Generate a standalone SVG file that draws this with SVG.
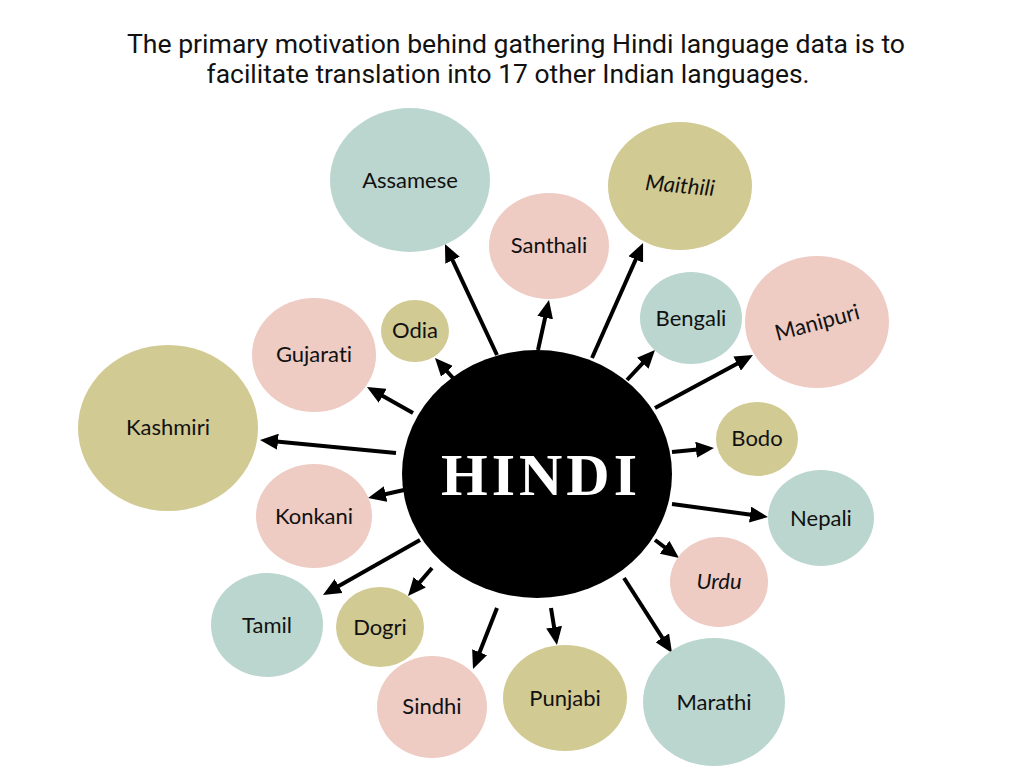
<svg xmlns="http://www.w3.org/2000/svg" width="1024" height="768" viewBox="0 0 1024 768">
<defs>
<style>
.t{fill:#bbd6cf}.p{fill:#eecbc3}.o{fill:#d1ca93}
.lbl{font-family:Lato,"Noto Sans",sans-serif;font-size:22px;fill:#111;text-anchor:middle;font-variant-ligatures:none}
.it{font-style:italic}
.title{font-family:Roboto,"Liberation Sans",sans-serif;font-size:25px;fill:#111;text-anchor:middle}
.arr line{stroke:#000;stroke-width:4;marker-end:url(#ah)}
</style>
<marker id="ah" markerUnits="userSpaceOnUse" markerWidth="18" markerHeight="16" refX="12" refY="8" orient="auto" viewBox="0 0 18 16">
<path d="M0,0 L18,8 L0,16 z" fill="#000"/>
</marker>
</defs>
<rect width="1024" height="768" fill="#fff"/>
<g id="title">
<text class="title" x="516" y="53" textLength="778" lengthAdjust="spacingAndGlyphs">The primary motivation behind gathering Hindi language data is to</text>
<text class="title" x="508" y="83" textLength="603" lengthAdjust="spacingAndGlyphs">facilitate translation into 17 other Indian languages.</text>
</g>
<g id="connectors" class="arr">
<line x1="497" y1="355" x2="447.5" y2="249.4"/>
<line x1="538" y1="350" x2="547.7" y2="305.9"/>
<line x1="592" y1="358" x2="640.6" y2="248.5"/>
<line x1="627" y1="380" x2="650.9" y2="354.4"/>
<line x1="655" y1="408" x2="747.7" y2="357.9"/>
<line x1="453" y1="378" x2="439" y2="362.5"/>
<line x1="413" y1="413" x2="372.2" y2="390"/>
<line x1="396" y1="453" x2="266" y2="440.6"/>
<line x1="404" y1="490" x2="373.9" y2="496.7"/>
<line x1="420" y1="540" x2="328.2" y2="592"/>
<line x1="432" y1="568" x2="411.9" y2="591.4"/>
<line x1="497" y1="608" x2="475.2" y2="663.4"/>
<line x1="551" y1="608" x2="556" y2="639"/>
<line x1="624" y1="578" x2="668.8" y2="647.9"/>
<line x1="655" y1="540" x2="674.2" y2="554.4"/>
<line x1="672" y1="504" x2="762" y2="516.2"/>
<line x1="672" y1="452" x2="708" y2="448.6"/>
</g>
<g id="hindi"><ellipse cx="537" cy="474" rx="135" ry="124" fill="#000"/>
<text x="539" y="495" font-family="'Liberation Serif',serif" font-weight="bold" font-size="60" fill="#fff" text-anchor="middle" textLength="196" lengthAdjust="spacing">HINDI</text></g>
<g id="assamese"><ellipse class="t" cx="410" cy="180" rx="80" ry="72"/><text class="lbl" x="410" y="188">Assamese</text></g>
<g id="santhali"><ellipse class="p" cx="549" cy="246" rx="60" ry="53"/><text class="lbl" x="549" y="253">Santhali</text></g>
<g id="maithili"><ellipse class="o" cx="680" cy="186" rx="72" ry="64"/><text class="lbl it" x="680" y="193" transform="rotate(5 680 186)">Maithili</text></g>
<g id="bengali"><ellipse class="t" cx="691" cy="318" rx="51" ry="46"/><text class="lbl" x="691" y="326">Bengali</text></g>
<g id="manipuri"><ellipse class="p" cx="817" cy="322" rx="72" ry="66"/><text class="lbl" x="817" y="330" transform="rotate(-15 817 322)">Manipuri</text></g>
<g id="gujarati"><ellipse class="p" cx="314" cy="355" rx="62" ry="57"/><text class="lbl" x="314" y="362">Gujarati</text></g>
<g id="odia"><ellipse class="o" cx="415" cy="331" rx="34" ry="31"/><text class="lbl" x="415" y="338">Odia</text></g>
<g id="kashmiri"><ellipse class="o" cx="168" cy="428" rx="90" ry="83"/><text class="lbl" x="168" y="435">Kashmiri</text></g>
<g id="konkani"><ellipse class="p" cx="314" cy="516" rx="58" ry="52"/><text class="lbl" x="314" y="524">Konkani</text></g>
<g id="tamil"><ellipse class="t" cx="267" cy="625" rx="56" ry="52"/><text class="lbl" x="267" y="633">Tamil</text></g>
<g id="dogri"><ellipse class="o" cx="380" cy="627" rx="44" ry="40"/><text class="lbl" x="380" y="635">Dogri</text></g>
<g id="sindhi"><ellipse class="p" cx="432" cy="707" rx="55" ry="51"/><text class="lbl" x="432" y="714">Sindhi</text></g>
<g id="punjabi"><ellipse class="o" cx="565" cy="698" rx="62" ry="53"/><text class="lbl" x="565" y="706">Punjabi</text></g>
<g id="marathi"><ellipse class="t" cx="714" cy="702" rx="71" ry="64"/><text class="lbl" x="714" y="710">Marathi</text></g>
<g id="urdu"><ellipse class="p" cx="719" cy="582" rx="49" ry="45"/><text class="lbl it" x="719" y="589">Urdu</text></g>
<g id="nepali"><ellipse class="t" cx="821" cy="518" rx="53" ry="48"/><text class="lbl" x="821" y="526">Nepali</text></g>
<g id="bodo"><ellipse class="o" cx="757" cy="439" rx="41" ry="37"/><text class="lbl" x="757" y="446">Bodo</text></g>
</svg>
